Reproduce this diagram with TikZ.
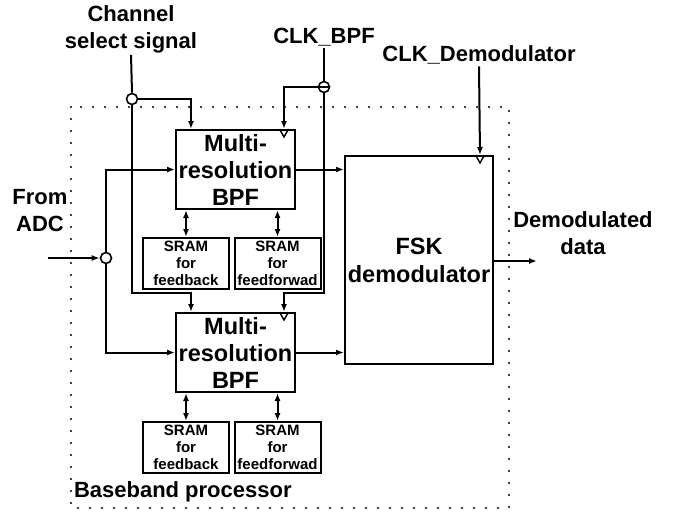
\documentclass[tikz,border=0pt]{standalone}
\usepackage{fontspec}
\setmainfont{Liberation Sans}
\usetikzlibrary{arrows.meta,calc}
\begin{document}
\begin{tikzpicture}[x=1pt,y=-1pt, line width=2pt,
  >={Latex[length=8pt,width=6pt]},
  blk/.style={draw, rectangle, line width=2pt, align=center, font=\fontsize{23.5}{27}\selectfont\bfseries, inner sep=0pt, minimum width=119pt, minimum height=79pt},
  sram/.style={draw, align=center, font=\fontsize{15}{17}\selectfont\bfseries, inner sep=0pt, minimum width=86pt, minimum height=51pt},
  lbl/.style={align=center, font=\fontsize{22}{27}\selectfont\bfseries, inner sep=1pt},
  jn/.style={circle, draw, minimum size=11pt, inner sep=0pt, line width=1.6pt},
  clktri/.style={line width=1.4pt},
  dotbox/.style={line width=2.4pt, dash pattern=on 0pt off 12pt, line cap=round},
]
\useasboundingbox (0,0) rectangle (676,516);

% dotted boundary
\draw[dotbox] (71,107) rectangle (509,508);
\node[lbl, anchor=west] (bb) at (72,492) {Baseband processor};

% blocks
\node[blk] (bpf1) at (235.5,169.5) {Multi-\\resolution\\BPF};
\node[blk] (bpf2) at (235.5,352.5) {Multi-\\resolution\\BPF};
\node[sram] (fb1) at (186,263.5) {SRAM\\for\\feedback};
\node[sram] (ff1) at (277.5,263.5) {SRAM\\for\\feedforwad};
\node[sram] (fb2) at (186,447.5) {SRAM\\for\\feedback};
\node[sram] (ff2) at (277.5,447.5) {SRAM\\for\\feedforwad};
\node[blk, minimum width=148pt, minimum height=208pt, font=\fontsize{23.5}{28}\selectfont\bfseries] (fsk) at (419,260) {FSK\\demodulator};

% clock triangles
\draw[clktri] ($(bpf1.north east)+(-16.5,0)$) -- ++(4.5,8) -- ++(4.5,-8);
\draw[clktri] ($(bpf2.north east)+(-16.5,0)$) -- ++(4.5,8) -- ++(4.5,-8);
\draw[clktri] ($(fsk.north east)+(-18.5,0)$) -- ++(4.5,8) -- ++(4.5,-8);

% labels
\node[lbl] (chan) at (131,29) {Channel\\select signal};
\node[lbl] (clk) at (324,37) {CLK\_BPF};
\node[lbl] (clkd) at (479,55) {CLK\_Demodulator};
\node[lbl] (adc) at (40,211) {From\\ADC};
\node[lbl] (dem) at (583,233) {Demodulated\\data};

% junctions
\node[jn] (c1) at (132,99) {};
\node[jn] (c2) at (324,87) {};
\node[jn] (c3) at (106,258) {};
\coordinate (b1) at (132,293);
\coordinate (b2) at (324,293);
\coordinate (adcin) at (48,258);
\coordinate (out) at (537,261);

% channel select
\draw (chan.south) -- (c1.north);
\draw[->] (c1.east) -| ($(bpf1.north west)+(16,0)$);
\draw[->] (c1.south) -- (b1) -| ($(bpf2.north west)+(16,0)$);

% CLK_BPF
\draw (clk.south) -- (c2.north);
\draw[->] (c2.east) -| ($(bpf1.north east)+(-12,0)$);
\draw[->] (c2.south) -- (b2) -| ($(bpf2.north east)+(-12,0)$);

% input from ADC
\draw[->] (adcin) -- (c3.west);
\draw[->] (c3.north) |- (bpf1.west);
\draw[->] (c3.south) |- (bpf2.west);

% SRAM links
\draw[<->] (fb1.north) -- (fb1.north |- bpf1.south);
\draw[<->] (ff1.north) -- (ff1.north |- bpf1.south);
\draw[<->] (fb2.north) -- (fb2.north |- bpf2.south);
\draw[<->] (ff2.north) -- (ff2.north |- bpf2.south);

% to FSK
\draw[->] (bpf1.east) -- (bpf1.east -| fsk.west);
\draw[->] (bpf2.east) -- (bpf2.east -| fsk.west);
\draw[->] (clkd.south) -- ($(fsk.north east)+(-14,0)$);
\draw[->] (fsk.east |- out) -- (out);
\end{tikzpicture}
\end{document}
